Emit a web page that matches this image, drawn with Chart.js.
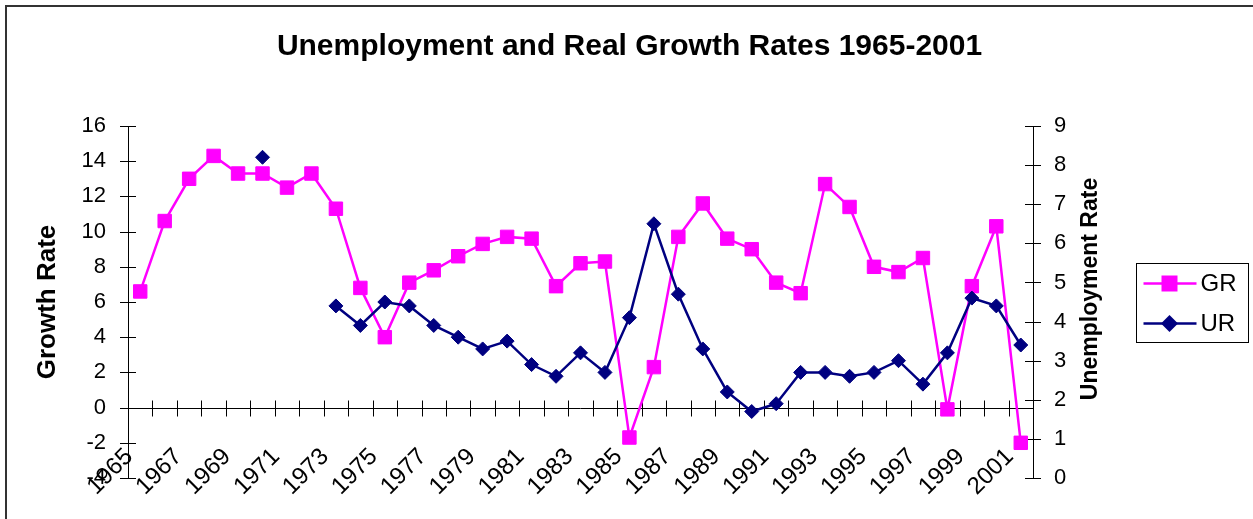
<!DOCTYPE html>
<html>
<head>
<meta charset="utf-8">
<script src="https://cdn.jsdelivr.net/npm/chart.js@4/dist/chart.umd.min.js"></script>
<style>
  html, body { margin: 0; padding: 0; background: #fff; }
  #wrap { position: relative; width: 1253px; height: 519px; overflow: hidden; }
  #frame { position: absolute; left: 5px; top: 5px; width: 1400px; height: 700px;
           border-left: 2px solid #333; border-top: 2px solid #333; }
  #chart { position: absolute; left: 0; top: 0; }
</style>
</head>
<body>
<div id="wrap">
  <div id="frame"></div>
  <canvas id="chart" width="1253" height="519"></canvas>
</div>
<script>
const years = ["1965","1966","1967","1968","1969","1970","1971","1972","1973","1974",
  "1975","1976","1977","1978","1979","1980","1981","1982","1983","1984",
  "1985","1986","1987","1988","1989","1990","1991","1992","1993","1994",
  "1995","1996","1997","1998","1999","2000","2001"];

// growth rate (left axis)
const growthRate = [6.6, 10.6, 13.0, 14.3, 13.3, 13.3, 12.5, 13.3, 11.3, 6.8,
  4.0, 7.1, 7.8, 8.6, 9.3, 9.7, 9.6, 6.9, 8.2, 8.3,
  -1.7, 2.3, 9.7, 11.6, 9.6, 9.0, 7.1, 6.5, 12.7, 11.4,
  8.0, 7.7, 8.5, -0.1, 6.9, 10.3, -2.0];

// unemployment rate (right axis)
const unemploymentRate = [null, null, null, null, null, 8.2, null, null, 4.4, 3.9,
  4.5, 4.4, 3.9, 3.6, 3.3, 3.5, 2.9, 2.6, 3.2, 2.7,
  4.1, 6.5, 4.7, 3.3, 2.2, 1.7, 1.9, 2.7, 2.7, 2.6,
  2.7, 3.0, 2.4, 3.2, 4.6, 4.4, 3.4];

const leftTicks = [-4, -2, 0, 2, 4, 6, 8, 10, 12, 14, 16];
const rightTicks = [0, 1, 2, 3, 4, 5, 6, 7, 8, 9];

const FONT = '"Liberation Sans", Arial, sans-serif';
const GR_COLOR = '#FF00FF';
const UR_COLOR = '#000080';

// axis line at zero with crossing ticks, crossing ticks on both value axes,
// right axis title (reads bottom to top) and boxed legend
const axisMarks = {
  id: 'axisMarks',
  beforeDatasetsDraw(chart) {
    const { ctx, chartArea: a, scales: { x, y, y2 } } = chart;
    ctx.save();
    ctx.strokeStyle = '#000';
    ctx.lineWidth = 1;
    ctx.beginPath();
    const y0 = Math.round(y.getPixelForValue(0)) + 0.5;
    ctx.moveTo(a.left, y0);
    ctx.lineTo(a.right, y0);
    const step = x.getPixelForValue(1) - x.getPixelForValue(0);
    for (let i = 1; i < years.length; i++) {
      const px = Math.round(x.getPixelForValue(i) - step / 2) + 0.5;
      ctx.moveTo(px, y0 - 8);
      ctx.lineTo(px, y0 + 8);
    }
    leftTicks.forEach(v => {
      const py = Math.round(y.getPixelForValue(v)) + 0.5;
      ctx.moveTo(a.left - 8, py);
      ctx.lineTo(a.left + 8, py);
    });
    rightTicks.forEach(v => {
      const py = Math.round(y2.getPixelForValue(v)) + 0.5;
      ctx.moveTo(a.right - 8, py);
      ctx.lineTo(a.right + 8, py);
    });
    ctx.stroke();
    ctx.restore();
  },
  afterDraw(chart) {
    const { ctx, chartArea: a } = chart;
    const mid = (a.top + a.bottom) / 2;
    ctx.save();
    ctx.fillStyle = '#000';
    ctx.font = 'bold 23px ' + FONT;
    ctx.textAlign = 'center';
    ctx.textBaseline = 'middle';
    ctx.translate(a.right + 58, mid - 13);
    ctx.rotate(-Math.PI / 2);
    ctx.fillText('Unemployment Rate', 0, 0);
    ctx.restore();

    // legend
    const lx = chart.width - 116.5, ly = Math.round(mid - 39) + 0.5;
    ctx.save();
    ctx.strokeStyle = '#000';
    ctx.lineWidth = 1;
    ctx.strokeRect(lx, ly, 112, 79);
    chart.data.datasets.forEach((ds, k) => {
      const cy = ly + 20 + k * 40;
      ctx.strokeStyle = ds.borderColor;
      ctx.fillStyle = ds.borderColor;
      ctx.lineWidth = ds.borderWidth;
      ctx.beginPath();
      ctx.moveTo(lx + 7, cy);
      ctx.lineTo(lx + 60, cy);
      ctx.stroke();
      const mx = lx + 33;
      ctx.beginPath();
      if (ds.pointStyle === 'rect') {
        ctx.rect(mx - 8, cy - 8, 16, 16);
      } else {
        ctx.moveTo(mx, cy - 8.5); ctx.lineTo(mx + 8.5, cy);
        ctx.lineTo(mx, cy + 8.5); ctx.lineTo(mx - 8.5, cy);
        ctx.closePath();
      }
      ctx.fill();
      ctx.fillStyle = '#000';
      ctx.font = '24px ' + FONT;
      ctx.textAlign = 'left';
      ctx.textBaseline = 'middle';
      ctx.fillText(ds.label, lx + 64, cy + 1);
    });
    ctx.restore();
  }
};

new Chart(document.getElementById('chart'), {
  type: 'line',
  data: {
    labels: years,
    datasets: [{
      label: 'GR',
      data: growthRate,
      yAxisID: 'y',
      borderColor: GR_COLOR,
      backgroundColor: GR_COLOR,
      borderWidth: 2.5,
      pointStyle: 'rect',
      pointRadius: 9.5,
      pointBorderWidth: 1,
      pointBackgroundColor: GR_COLOR,
      pointBorderColor: GR_COLOR,
      tension: 0,
      order: 1
    }, {
      label: 'UR',
      data: unemploymentRate,
      yAxisID: 'y2',
      borderColor: UR_COLOR,
      backgroundColor: UR_COLOR,
      borderWidth: 2.5,
      pointStyle: 'rectRot',
      pointRadius: 7,
      pointBorderWidth: 1,
      pointBackgroundColor: UR_COLOR,
      pointBorderColor: UR_COLOR,
      tension: 0,
      order: 0
    }]
  },
  options: {
    responsive: false,
    animation: false,
    layout: { padding: { top: 0, right: 0, bottom: 41, left: 6 } },
    plugins: {
      legend: { display: false },
      tooltip: { enabled: false },
      title: {
        display: true,
        text: 'Unemployment and Real Growth Rates 1965-2001',
        color: '#000',
        font: { family: FONT, size: 30, weight: 'bold' },
        padding: { top: 29, bottom: 61 }
      }
    },
    scales: {
      x: {
        type: 'category',
        position: { y: -2 },
        offset: true,
        grid: { display: false, drawTicks: false },
        border: { display: false },
        ticks: {
          autoSkip: false,
          minRotation: 45,
          maxRotation: 45,
          padding: 0,
          labelOffset: -11,
          color: '#000',
          font: { family: FONT, size: 24 },
          callback: (v, i) => (i % 2 === 0 ? years[i] : null)
        }
      },
      y: {
        type: 'linear',
        position: 'left',
        min: -4,
        max: 16,
        afterBuildTicks: s => { s.ticks = leftTicks.map(v => ({ value: v })); },
        afterFit: s => { s.width = 122; },
        grid: { display: false, drawTicks: false },
        border: { display: true, color: '#000', width: 1 },
        ticks: { color: '#000', padding: 22, font: { family: FONT, size: 22 } },
        title: {
          display: true,
          text: 'Growth Rate',
          color: '#000',
          font: { family: FONT, size: 26, weight: 'bold' },
          padding: { top: 26, bottom: 0 }
        }
      },
      y2: {
        type: 'linear',
        position: 'right',
        min: 0,
        max: 9,
        afterBuildTicks: s => { s.ticks = rightTicks.map(v => ({ value: v })); },
        afterFit: s => { s.width = 220; },
        grid: { display: false, drawTicks: false },
        border: { display: true, color: '#000', width: 1 },
        ticks: { color: '#000', padding: 21, font: { family: FONT, size: 22 } }
      }
    }
  },
  plugins: [axisMarks]
});
</script>
</body>
</html>
